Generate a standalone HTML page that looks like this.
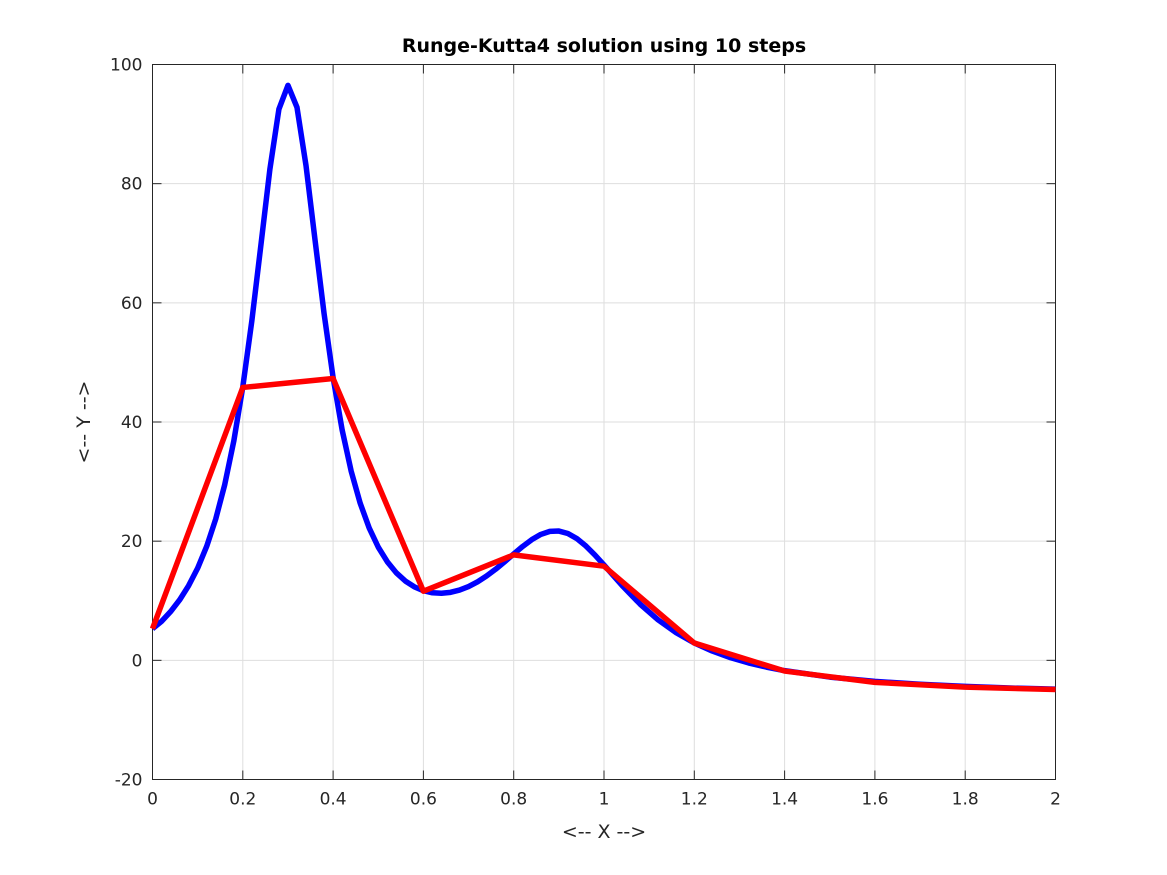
<!DOCTYPE html>
<html><head><meta charset="utf-8">
<style>
html,body{margin:0;padding:0;background:#fff;}
svg{display:block;font-family:"DejaVu Sans","Liberation Sans",sans-serif;}
</style></head>
<body>
<svg id="chart" width="1167" height="875" viewBox="0 0 1167 875"></svg>
<script>
const xTicks=[0,0.2,0.4,0.6,0.8,1,1.2,1.4,1.6,1.8,2];
const xTickLabels=["0","0.2","0.4","0.6","0.8","1","1.2","1.4","1.6","1.8","2"];
const yTicks=[-20,0,20,40,60,80,100];
const yTickLabels=["-20","0","20","40","60","80","100"];
const exactX=[0,0.02,0.04,0.06,0.08,0.10,0.12,0.14,0.16,0.18,0.20,0.22,0.24,0.26,0.28,0.30,0.32,0.34,0.36,0.38,0.40,0.42,0.44,0.46,0.48,0.50,0.52,0.54,0.56,0.58,0.60,0.62,0.64,0.66,0.68,0.70,0.72,0.74,0.76,0.78,0.80,0.82,0.84,0.86,0.88,0.90,0.92,0.94,0.96,0.98,1.00,1.04,1.08,1.12,1.16,1.20,1.24,1.28,1.32,1.36,1.40,1.50,1.60,1.70,1.80,1.90,2.00];
const exactY=[5.29,6.54,8.17,10.13,12.53,15.47,19.13,23.71,29.49,36.77,45.89,56.97,69.63,82.43,92.51,96.5,92.81,83.04,70.54,58.20,47.45,38.68,31.76,26.37,22.20,19.0,16.55,14.69,13.31,12.33,11.69,11.34,11.26,11.41,11.79,12.38,13.18,14.16,15.29,16.54,17.85,19.12,20.25,21.13,21.64,21.70,21.29,20.42,19.18,17.67,16.0,12.57,9.43,6.78,4.63,2.91,1.55,0.45,-0.43,-1.14,-1.73,-2.81,-3.53,-4.02,-4.38,-4.65,-4.83];
const rkX=[0,0.2,0.4,0.6,0.8,1.0,1.2,1.4,1.6,1.8,2.0];
const rkY=[5.3,45.8,47.3,11.6,17.7,15.8,2.9,-1.8,-3.7,-4.5,-4.9];

const L=152.5,R=1055.5,T=64.5,B=779.5;
const sx=v=>L+(v-0)/(2-0)*(R-L);
const sy=v=>B-(v+20)/120*(B-T);
const svg=document.getElementById('chart');
const NS='http://www.w3.org/2000/svg';
function mk(tag,attrs,parent){const e=document.createElementNS(NS,tag);for(const k in attrs)e.setAttribute(k,attrs[k]);(parent||svg).appendChild(e);return e;}

const bg=mk('rect',{x:L,y:T,width:R-L,height:B-T,fill:'#fff'});



const grid=mk('g',{stroke:'#dedede','stroke-width':1});


xTicks.forEach(v=>{mk('line',{x1:sx(v),x2:sx(v),y1:T,y2:B},grid);});
yTicks.forEach(v=>{mk('line',{x1:L,x2:R,y1:sy(v),y2:sy(v)},grid);});

const ax=mk('g',{stroke:'#262626','stroke-width':1,fill:'none'});


mk('rect',{x:L,y:T,width:R-L,height:B-T},ax);
xTicks.forEach(v=>{mk('line',{x1:sx(v),x2:sx(v),y1:B,y2:B-9},ax);mk('line',{x1:sx(v),x2:sx(v),y1:T,y2:T+9},ax);});
yTicks.forEach(v=>{mk('line',{x1:L,x2:L+9,y1:sy(v),y2:sy(v)},ax);mk('line',{x1:R,x2:R-9,y1:sy(v),y2:sy(v)},ax);});

const xl=mk('g',{fill:'#262626','font-size':'17','text-anchor':'middle'});


xTicks.forEach((v,i)=>{const t=mk('text',{x:sx(v),y:B+25},xl);t.textContent=xTickLabels[i];});
const yl=mk('g',{fill:'#262626','font-size':'17','text-anchor':'end'});


yTicks.forEach((v,i)=>{const t=mk('text',{x:L-10,y:sy(v)+6},yl);t.textContent=yTickLabels[i];});

const blue=mk('polyline',{points:exactX.map((x,i)=>sx(x)+','+sy(exactY[i])).join(' '),fill:'none',stroke:'#0000ff','stroke-width':5.5,'stroke-linejoin':'round'});


const red=mk('polyline',{points:rkX.map((x,i)=>sx(x)+','+sy(rkY[i])).join(' '),fill:'none',stroke:'#ff0000','stroke-width':5.5,'stroke-linejoin':'round'});



const title=mk('text',{x:(L+R)/2,y:52,'text-anchor':'middle','font-size':'19','font-weight':'bold',fill:'#000'});
title.textContent='Runge-Kutta4 solution using 10 steps';


const xt=mk('text',{x:(L+R)/2,y:838,'text-anchor':'middle','font-size':'19',fill:'#262626'});
xt.textContent='<-- X -->';


const yt=mk('text',{x:0,y:0,'text-anchor':'middle','font-size':'19',fill:'#262626',transform:'translate(90,'+((T+B)/2)+') rotate(-90)'});
yt.textContent='<-- Y -->';


</script>
</body></html>
